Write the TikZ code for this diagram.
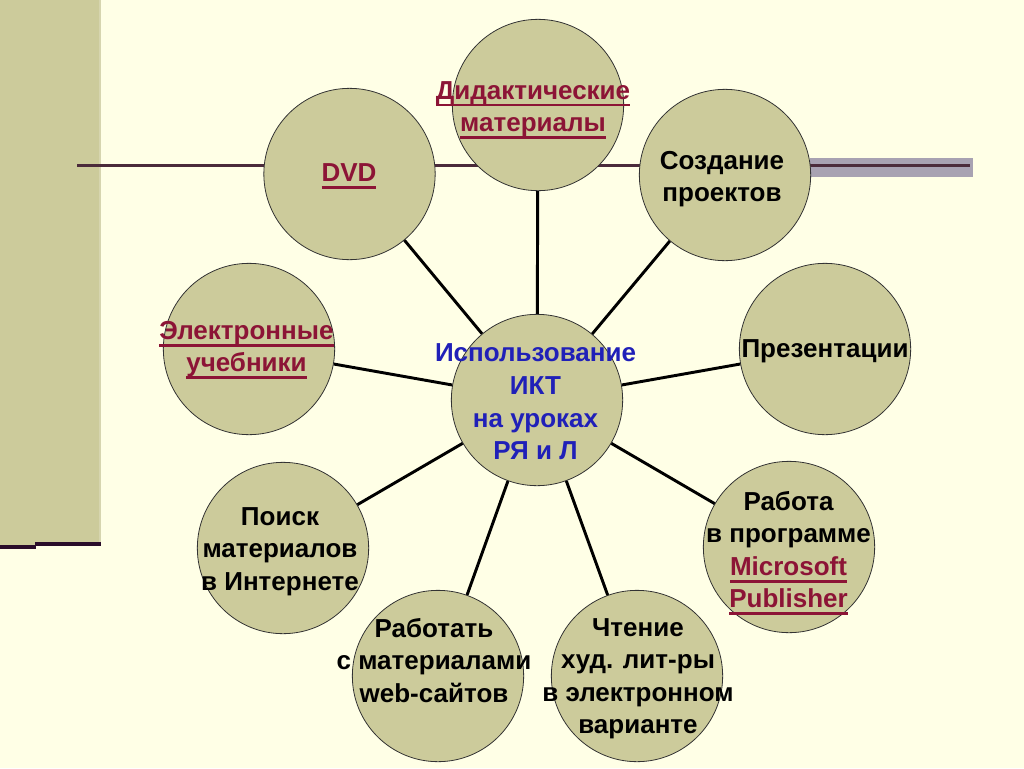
\documentclass[tikz,border=0pt]{standalone}
\usepackage{fontspec}
\setmainfont{Liberation Sans}
\newcommand\ulk[1]{\setbox0\hbox{#1}\rlap{\rule[-5.4pt]{\wd0}{2.1pt}}\box0}
\definecolor{bgcream}{HTML}{FFFFE6}
\definecolor{khaki}{HTML}{CCCB9B}
\definecolor{linkred}{HTML}{8C1436}
\definecolor{ictblue}{HTML}{2020B8}
\definecolor{barblue}{HTML}{A8A2B2}
\definecolor{maroonline}{HTML}{4B2B3B}
\definecolor{darkpurple}{HTML}{2A0D2A}
\tikzset{
  circ/.style={circle, draw=black!80, line width=0.6pt, fill=khaki, minimum size=128.5pt, inner sep=0pt},
  lbl/.style={font=\fontsize{19.5}{24.4}\selectfont\bfseries, align=center, inner sep=0pt, anchor=north},
  link/.style={lbl, text=linkred},
  conn/.style={line width=2.2pt, black},
}
\begin{document}
\begin{tikzpicture}[x=0.75pt,y=-0.75pt]
\useasboundingbox (0,0) rectangle (1024,768);
\fill[bgcream] (0,0) rectangle (1024,768);
% left bar
\fill[khaki] (0,0) rectangle (101,545);
\fill[khaki!80!white] (99,0) rectangle (101,545);
% right grey bar
\fill[barblue] (810,158) rectangle (973,177);
% horizontal line
\draw[maroonline, line width=1.6pt] (77,165.5) -- (970,165.5);
% bottom-left lines
\draw[darkpurple, line width=3pt] (0,546.5) -- (36,546.5);
\draw[darkpurple, line width=3pt] (35,544) -- (101,544);
% circles
\node[circ] (c)    at (537,400) {};
\node[circ] (did)  at (538,105) {};
\node[circ] (dvd)  at (349.5,174) {};
\node[circ] (proj) at (725,175) {};
\node[circ] (ucheb) at (249,349) {};
\node[circ] (pres) at (825,349) {};
\node[circ] (poisk) at (283,548) {};
\node[circ] (pub)  at (789,547) {};
\node[circ] (web)  at (438,676) {};
\node[circ] (read) at (637,676) {};
% connectors
\foreach \n in {did,dvd,proj,ucheb,pres,poisk,pub,web,read}
  \draw[conn] (c) -- (\n);
% labels
\node[link] (tdvd) at (349,163.5) {\ulk{DVD}};
\node[link] (tdid) at (533,81) {\ulk{Дидактические}\\\ulk{материалы}};
\node[lbl] (tproj) at (722,151) {Создание\\проектов};
\node[link] (tucheb) at (246.5,321) {\ulk{Электронные}\\\ulk{учебники}};
\node[lbl] (tpres) at (825,339.5) {Презентации};
\node[lbl, text=ictblue, font=\fontsize{19.5}{24.7}\selectfont\bfseries] (tc) at (535.5,343) {Использование\\ИКТ\\на уроках\\РЯ и Л};
\node[lbl] (tpoisk) at (280,507) {Поиск\\материалов\\в Интернете};
\node[lbl] (tpub) at (788.5,491) {Работа\\в программе\\\textcolor{linkred}{\ulk{Microsoft}}\\\textcolor{linkred}{\ulk{Publisher}}};
\node[lbl] (tweb) at (434,618) {Работать\\с материалами\\web-сайтов};
\node[lbl] (tread) at (638,618) {Чтение\\худ. лит-ры\\в электронном\\варианте};
\end{tikzpicture}
\end{document}
